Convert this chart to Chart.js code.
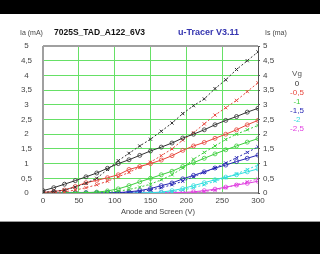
<!DOCTYPE html>
<html>
<head>
<meta charset="utf-8">
<script src="https://cdn.jsdelivr.net/npm/chart.js@4/dist/chart.umd.min.js"></script>
<style>
html, body { margin: 0; padding: 0; background: #000; }
#wrap { width: 320px; height: 254px; }
</style>
</head>
<body>
<div id="wrap"><canvas id="chart" width="320" height="254"></canvas></div>
<script>
// anode / screen voltage of each measured point
var volts = [0, 15, 30, 45, 60, 75, 90, 105, 120, 135, 150, 165, 180, 195, 210, 225, 240, 255, 270, 285, 300];

// grid voltages and their colours
var vgLabels = ['0', '-0,5', '-1', '-1,5', '-2', '-2,5'];
var vgColors = ['#333333', '#e8463c', '#3ccf3c', '#2828b4', '#30dede', '#e040e0'];

// anode current Ia (mA), solid lines
var iaVg0   = [0.08, 0.18, 0.30, 0.42, 0.55, 0.68, 0.84, 1.00, 1.13, 1.28, 1.43, 1.56, 1.70, 1.87, 2.00, 2.15, 2.32, 2.47, 2.60, 2.75, 2.88];
var iaVg05  = [0.02, 0.05, 0.10, 0.22, 0.35, 0.43, 0.52, 0.62, 0.80, 0.90, 1.00, 1.12, 1.27, 1.45, 1.60, 1.72, 1.86, 2.00, 2.15, 2.32, 2.47];
var iaVg1   = [0.00, 0.00, 0.00, 0.01, 0.01, 0.03, 0.07, 0.14, 0.25, 0.38, 0.50, 0.62, 0.74, 0.90, 1.03, 1.18, 1.33, 1.47, 1.60, 1.73, 1.85];
var iaVg15  = [0.00, 0.00, 0.00, 0.00, 0.00, 0.00, 0.01, 0.01, 0.04, 0.08, 0.15, 0.25, 0.34, 0.48, 0.60, 0.72, 0.85, 0.95, 1.07, 1.18, 1.29];
var iaVg2   = [0.00, 0.00, 0.00, 0.00, 0.00, 0.00, 0.00, 0.00, 0.00, 0.01, 0.01, 0.03, 0.08, 0.15, 0.25, 0.35, 0.45, 0.54, 0.62, 0.72, 0.82];
var iaVg25  = [0.02, 0.02, 0.02, 0.02, 0.02, 0.02, 0.02, 0.02, 0.02, 0.02, 0.02, 0.02, 0.02, 0.02, 0.04, 0.08, 0.13, 0.20, 0.27, 0.33, 0.40];

// screen current Is (mA), dashed lines
var isVg0   = [0.02, 0.05, 0.10, 0.20, 0.33, 0.50, 0.80, 1.10, 1.35, 1.60, 1.83, 2.10, 2.38, 2.70, 2.97, 3.20, 3.55, 3.85, 4.20, 4.50, 4.80];
var isVg05  = [0.00, 0.01, 0.04, 0.10, 0.18, 0.28, 0.40, 0.55, 0.70, 0.88, 1.05, 1.27, 1.50, 1.80, 2.05, 2.35, 2.65, 2.90, 3.15, 3.45, 3.75];
var isVg1   = [0.00, 0.00, 0.00, 0.00, 0.00, 0.01, 0.02, 0.06, 0.12, 0.20, 0.30, 0.45, 0.62, 0.85, 1.15, 1.38, 1.60, 1.82, 2.00, 2.15, 2.30];
var isVg15  = [0.00, 0.00, 0.00, 0.00, 0.00, 0.00, 0.00, 0.01, 0.02, 0.05, 0.10, 0.18, 0.28, 0.40, 0.55, 0.70, 0.85, 1.02, 1.20, 1.38, 1.57];
var isVg2   = [0.00, 0.00, 0.00, 0.00, 0.00, 0.00, 0.00, 0.00, 0.00, 0.00, 0.00, 0.01, 0.04, 0.10, 0.18, 0.28, 0.40, 0.52, 0.65, 0.80, 0.95];
var isVg25  = [0.00, 0.00, 0.00, 0.00, 0.00, 0.00, 0.00, 0.00, 0.00, 0.00, 0.00, 0.00, 0.00, 0.00, 0.01, 0.05, 0.10, 0.18, 0.28, 0.38, 0.48];

var iaSeries = [iaVg0, iaVg05, iaVg1, iaVg15, iaVg2, iaVg25];
var isSeries = [isVg0, isVg05, isVg1, isVg15, isVg2, isVg25];

var xTicks = [0, 50, 100, 150, 200, 250, 300];
var yTickLabels = ['0', '0,5', '1', '1,5', '2', '2,5', '3', '3,5', '4', '4,5', '5'];

var gridGreen = '#66e066';
var tickFont = { family: 'Liberation Sans', size: 8 };

function points(arr) {
    return volts.map(function (v, i) {
        return { x: v, y: arr[i] };
    });
}

var datasets = [];
for (var i = 0; i < vgLabels.length; i++) {
    datasets.push({
        label: 'Is Vg ' + vgLabels[i],
        data: points(isSeries[i]),
        borderColor: vgColors[i],
        borderWidth: 1,
        borderDash: [2, 2],
        pointStyle: 'crossRot',
        pointRadius: 2.2,
        pointBorderWidth: 1,
        pointBorderColor: vgColors[i],
        pointBackgroundColor: vgColors[i]
    });
    datasets.push({
        label: 'Ia Vg ' + vgLabels[i],
        data: points(iaSeries[i]),
        borderColor: vgColors[i],
        borderWidth: 1,
        pointStyle: 'circle',
        pointRadius: 2,
        pointBorderWidth: 0.8,
        pointBorderColor: vgColors[i],
        pointBackgroundColor: 'rgba(0,0,0,0)'
    });
}

// black bands, white sheet, frame of the plot, texts
var sheetPlugin = {
    id: 'sheet',
    beforeDraw: function (chart) {
        var c = chart.ctx;
        c.save();
        c.fillStyle = '#000';
        c.fillRect(0, 0, chart.width, chart.height);
        c.fillStyle = '#fff';
        c.fillRect(0, 14, chart.width, 208);
        c.fillStyle = '#9a9a9a';
        c.fillRect(0, 221, chart.width, 1);
        c.restore();
    },
    beforeDatasetsDraw: function (chart) {
        var a = chart.chartArea;
        var c = chart.ctx;
        c.save();
        c.strokeStyle = '#a0a0a0';
        c.lineWidth = 2;
        c.beginPath();
        c.moveTo(a.left, a.top);
        c.lineTo(a.left, a.bottom);
        c.lineTo(a.right, a.bottom);
        c.moveTo(a.left, a.top);
        c.lineTo(a.right, a.top);
        c.stroke();
        c.strokeStyle = '#555';
        c.lineWidth = 1;
        c.beginPath();
        c.moveTo(a.right + 0.5, a.top);
        c.lineTo(a.right + 0.5, a.bottom);
        c.stroke();
        c.restore();
    },
    afterDraw: function (chart) {
        var c = chart.ctx;
        c.save();
        c.textBaseline = 'middle';
        c.textAlign = 'left';
        c.fillStyle = '#444';
        c.font = '7px "Liberation Sans"';
        c.fillText('Ia (mA)', 20, 33);
        c.fillText('Is (ma)', 265, 33);
        c.fillStyle = '#111';
        c.font = 'bold 8.5px "Liberation Sans"';
        c.fillText('7025S_TAD_A122_6V3', 54, 33);
        c.fillStyle = '#3535b0';
        c.font = 'bold 9px "Liberation Sans"';
        c.fillText('u-Tracer V3.11', 178, 33);
        c.textAlign = 'center';
        c.fillStyle = '#444';
        c.font = '7.5px "Liberation Sans"';
        c.fillText('Anode and Screen (V)', 158, 212);
        c.font = '8px "Liberation Sans"';
        c.fillStyle = '#555';
        c.fillText('Vg', 297, 74);
        for (var k = 0; k < vgLabels.length; k++) {
            c.fillStyle = vgColors[k];
            c.fillText(vgLabels[k], 297, 84 + k * 9);
        }
        c.restore();
    }
};

var ctx = document.getElementById('chart').getContext('2d');
var myChart = new Chart(ctx, {
    type: 'line',
    data: { datasets: datasets },
    options: {
        responsive: false,
        animation: false,
        devicePixelRatio: 1,
        layout: { padding: { top: 46, left: 0, right: 0, bottom: 0 } },
        plugins: {
            legend: { display: false },
            tooltip: { enabled: false }
        },
        scales: {
            x: {
                type: 'linear',
                min: 0,
                max: 300,
                afterBuildTicks: function (s) {
                    s.ticks = xTicks.map(function (v) { return { value: v }; });
                },
                afterFit: function (s) { s.height = 61; },
                ticks: { font: tickFont, color: '#444', padding: 3, maxRotation: 0 },
                grid: { color: gridGreen, lineWidth: 1, drawTicks: false },
                border: { display: false }
            },
            y: {
                position: 'left',
                min: 0,
                max: 5,
                afterBuildTicks: function (s) {
                    s.ticks = yTickLabels.map(function (t, i) { return { value: i * 0.5 }; });
                },
                afterFit: function (s) { s.width = 43; },
                ticks: {
                    font: tickFont,
                    color: '#444',
                    padding: 11,
                    crossAlign: 'center',
                    callback: function (v, i) { return yTickLabels[i]; }
                },
                grid: { color: gridGreen, lineWidth: 1, drawTicks: false },
                border: { display: false }
            },
            y2: {
                position: 'right',
                min: 0,
                max: 5,
                afterBuildTicks: function (s) {
                    s.ticks = yTickLabels.map(function (t, i) { return { value: i * 0.5 }; });
                },
                afterFit: function (s) { s.width = 62; },
                ticks: {
                    font: tickFont,
                    color: '#444',
                    padding: 3,
                    callback: function (v, i) { return yTickLabels[i]; }
                },
                grid: { display: true, drawOnChartArea: false, color: '#555', tickLength: 2 },
                border: { display: false }
            }
        }
    },
    plugins: [sheetPlugin]
});
</script>
</body>
</html>
